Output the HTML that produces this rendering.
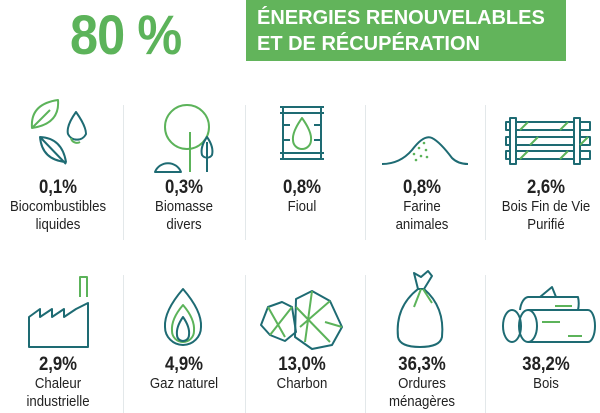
<!DOCTYPE html>
<html><head><meta charset="utf-8"><style>
body{margin:0;width:600px;height:413px;background:#fff;overflow:hidden;position:relative;font-family:"Liberation Sans",sans-serif;color:#222}
.big{position:absolute;left:70px;top:2px;font-size:56px;font-weight:bold;color:#5cb35a;letter-spacing:-1px;transform:scaleX(.9);transform-origin:left}
.box{position:absolute;left:246px;top:0px;width:320px;height:61px;background:#62b45b;color:#fff;font-weight:bold;font-size:20px;line-height:26px;box-sizing:border-box;padding:5px 0 0 11px;white-space:nowrap}
.div{position:absolute;width:1px;background:#e3e8ea}
.c{position:absolute;width:124px;text-align:center;transform:scaleX(.88);white-space:nowrap}
.p{font-size:19px;font-weight:bold;line-height:20px}
.l{font-size:15px;line-height:18px}
svg{position:absolute}
</style></head><body>
<div class="big">80 %</div>
<div class="box">ÉNERGIES RENOUVELABLES<br>ET DE RÉCUPÉRATION</div>

<div class="div" style="left:123px;top:105px;height:135px"></div>
<div class="div" style="left:245px;top:105px;height:135px"></div>
<div class="div" style="left:365px;top:105px;height:135px"></div>
<div class="div" style="left:485px;top:105px;height:135px"></div>
<div class="div" style="left:123px;top:275px;height:138px"></div>
<div class="div" style="left:245px;top:275px;height:138px"></div>
<div class="div" style="left:365px;top:275px;height:138px"></div>
<div class="div" style="left:485px;top:275px;height:138px"></div>

<svg width="600" height="413" fill="none" stroke-width="2" stroke-linejoin="round">
<g transform="translate(0,-8)">
<!-- leaves -->
<path d="M32 136 Q30 112 58 108 Q60 132 32 136 Z M32 136 L50 118" stroke="#5cb35a"/>
<path d="M40 145 Q62 146 66 170 Q42 168 40 145 Z M40 145 L66 172" stroke="#1e6b73"/>
<path d="M76 120 Q66 134 68 142 A10 10 0 0 0 86 142 Q86 134 76 120 Z" stroke="#1e6b73"/>
<path d="M71 146 A6 6 0 0 0 80 150" stroke="#5cb35a"/>
<!-- trees -->
<circle cx="187" cy="135" r="22" stroke="#5cb35a"/>
<path d="M190 140 V180" stroke="#5cb35a"/>
<path d="M155 180 A14 14 0 0 1 181 180 Z" stroke="#1e6b73"/>
<path d="M207 145 Q200 155 202 163 A6 6 0 0 0 212 163 Q214 155 207 145 Z M207 150 V180" stroke="#1e6b73"/>
<!-- barrel -->
<rect x="283" y="115" width="38" height="52" stroke="#1e6b73"/>
<path d="M280 115 H324 M280 121 H324 M280 161 H324 M280 167 H324 M283 133 H290 M314 133 H321 M283 148 H290 M314 148 H321" stroke="#1e6b73"/>
<path d="M302 126 Q292 140 293 148 A9 9 0 0 0 311 148 Q312 140 302 126 Z" stroke="#5cb35a"/>
<!-- hill -->
<path d="M382 172 Q400 172 412 158 Q424 142 432 146 Q440 150 452 166 Q458 172 468 172" stroke="#1e6b73"/>
<g fill="#5cb35a" stroke="none"><circle cx="424" cy="151" r="1.3"/><circle cx="419" cy="156" r="1.3"/><circle cx="426" cy="158" r="1.3"/><circle cx="414" cy="162" r="1.3"/><circle cx="421" cy="164" r="1.3"/><circle cx="416" cy="168" r="1.3"/><circle cx="427" cy="165" r="1.3"/></g>
<!-- crate -->
<path d="M506 130 H590 V138 H506 Z M506 145 H590 V153 H506 Z M506 159 H590 V167 H506 Z" stroke="#1e6b73"/>
<rect x="510" y="126" width="6" height="46" stroke="#1e6b73" fill="#fff"/>
<rect x="574" y="126" width="6" height="46" stroke="#1e6b73" fill="#fff"/>
<path d="M520 138 L528 130 M560 138 L568 130 M530 153 L538 145 M580 153 L588 145 M520 167 L528 159 M560 167 L568 159" stroke="#5cb35a"/>
</g>
<g transform="translate(0,-3)">
<!-- factory -->
<path d="M29 350 V320 L40 312 V320 L52 312 V320 L64 312 V320 L76 312 L88 306 V350 Z" stroke="#1e6b73"/>
<path d="M80 300 V280 H87 V300" stroke="#5cb35a"/>
<!-- flame -->
<path d="M183 292 Q164 314 165 330 A18 18 0 0 0 201 330 Q202 314 183 292 Z" stroke="#1e6b73"/>
<path d="M183 308 Q171 322 172 334 A11 11 0 0 0 194 334 Q195 322 183 308 Z" stroke="#5cb35a"/>
<path d="M183 320 Q176 330 177 338 A6 6 0 0 0 189 338 Q190 330 183 320 Z" stroke="#1e6b73"/>
<!-- coal -->
<path d="M268 310 L282 305 L292 310 L296 335 L285 344 L270 338 L261 328 Z" stroke="#1e6b73"/>
<path d="M296 302 L312 294 L330 304 L342 330 L332 348 L312 352 L295 340 Z" stroke="#1e6b73"/>
<path d="M268 310 L285 340 M292 310 L270 338 M296 310 L330 345 M312 294 L305 345 M330 304 L300 330 M325 325 L342 330" stroke="#5cb35a"/>
<!-- bag -->
<path d="M418 292 Q395 310 398 340 Q400 350 420 350 Q440 350 442 340 Q445 310 424 292 Z" stroke="#1e6b73"/>
<path d="M418 292 L414 276 L421 280 L428 274 L432 279 L424 292" stroke="#1e6b73"/>
<path d="M421 292 L414 310 M423 292 L432 306" stroke="#5cb35a"/>
<!-- logs -->
<ellipse cx="512" cy="329" rx="9" ry="16" stroke="#1e6b73"/>
<ellipse cx="528" cy="329" rx="9" ry="16" stroke="#1e6b73"/>
<path d="M528 313 H588 A7 16 0 0 1 588 345 H528" stroke="#1e6b73"/>
<path d="M520 313 A9 16 0 0 1 528 300 H578 A6 14 0 0 1 578 313 M540 300 L552 290 L556 300" stroke="#1e6b73"/>
<path d="M555 309 H572 M542 325 H560 M568 339 H582" stroke="#5cb35a"/>
</g>
</svg>

<div class="c" style="left:-4px;top:178px"><div class="p">0,1%</div><div class="l">Biocombustibles<br>liquides</div></div>
<div class="c" style="left:122px;top:178px"><div class="p">0,3%</div><div class="l">Biomasse<br>divers</div></div>
<div class="c" style="left:240px;top:178px"><div class="p">0,8%</div><div class="l">Fioul</div></div>
<div class="c" style="left:360px;top:178px"><div class="p">0,8%</div><div class="l">Farine<br>animales</div></div>
<div class="c" style="left:484px;top:178px"><div class="p">2,6%</div><div class="l">Bois Fin de Vie<br>Purifié</div></div>

<div class="c" style="left:-4px;top:355px"><div class="p">2,9%</div><div class="l">Chaleur<br>industrielle</div></div>
<div class="c" style="left:122px;top:355px"><div class="p">4,9%</div><div class="l">Gaz naturel</div></div>
<div class="c" style="left:240px;top:355px"><div class="p">13,0%</div><div class="l">Charbon</div></div>
<div class="c" style="left:360px;top:355px"><div class="p">36,3%</div><div class="l">Ordures<br>ménagères</div></div>
<div class="c" style="left:484px;top:355px"><div class="p">38,2%</div><div class="l">Bois</div></div>
</body></html>
